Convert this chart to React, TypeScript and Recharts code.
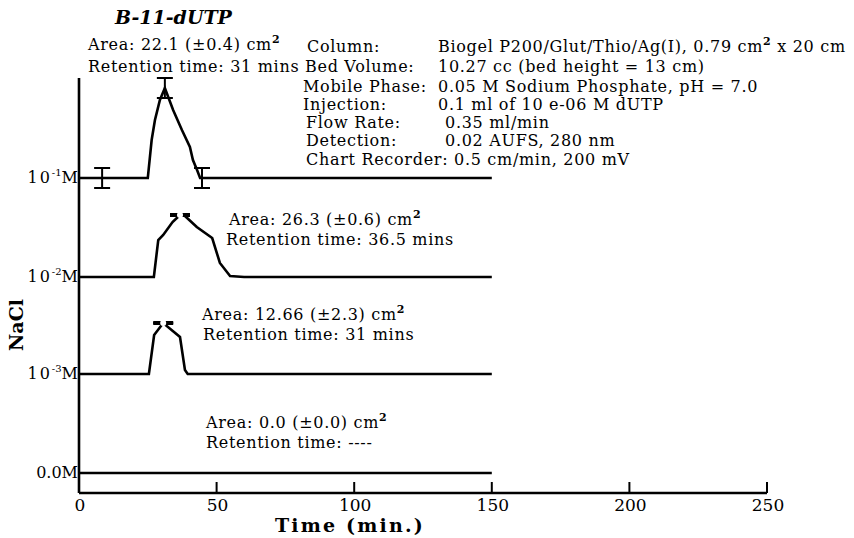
import React from 'react';
import { LineChart, Line, XAxis, YAxis, ErrorBar } from 'recharts';

// Time axis (min.)
const xTicks = [0, 50, 100, 150, 200, 250];

// Baseline offsets of each NaCl trace (arbitrary detector units)
const baseline01 = 295; // 10^-1 M
const baseline02 = 196; // 10^-2 M
const baseline03 = 99; // 10^-3 M
const baseline00 = 0; // 0.0 M

const yTickValues = [baseline00, baseline03, baseline02, baseline01];
const yTickMantissa = ['0.0', '10', '10', '10'];
const yTickExponent = ['', '-3', '-2', '-1'];

// Trace 10^-1 M
const times01 = [0, 8.4, 25, 26.4, 27.6, 29.4, 31.2, 34.2, 37.4, 40.3, 41.4, 42.9, 44, 44.7, 150];
const signal01 = [0, 0, 0, 38, 58, 78, 90, 68, 48, 31, 18, 8, 0, 0, 0];
const errTimes01 = [8.4, 31.2, 44.7];
const errSignal01 = [0, 90, 0];
const errSize01 = [10, 10, 10];

// Trace 10^-2 M
const times02 = [0, 27.2, 28.8, 30.6, 34, 36.7, 38.5, 42.8, 48.4, 51.2, 54.9, 60, 150];
const signal02 = [0, 0, 37, 42, 55, 62, 61, 50, 39, 14, 1, 0, 0];
const errTimes02 = [36.7];
const errSignal02 = [62];
const errSize02 = [0.5];

// Trace 10^-3 M
const times03 = [0, 25.4, 27.3, 30.6, 36.7, 38.5, 39.5, 150];
const signal03 = [0, 0, 39, 51, 37, 4, 0, 0];
const errTimes03 = [30.6];
const errSignal03 = [51];
const errSize03 = [0.5];

// Trace 0.0 M
const times00 = [0, 150];
const signal00 = [0, 0];

const build = (t: number[], s: number[], base: number, e?: number[]) =>
  t.map((x, i) => ({ t: x, v: base + s[i], err: e ? e[i] : undefined }));

const data01 = build(times01, signal01, baseline01);
const data02 = build(times02, signal02, baseline02);
const data03 = build(times03, signal03, baseline03);
const data00 = build(times00, signal00, baseline00);
const err01 = build(errTimes01, errSignal01, baseline01, errSize01);
const err02 = build(errTimes02, errSignal02, baseline02, errSize02);
const err03 = build(errTimes03, errSignal03, baseline03, errSize03);

const FONT = 'DejaVu Serif';
const LS = 0.7;

const XTick = (props: any) => {
  const { x, y, payload } = props;
  return (
    <g>
      {payload.value !== 0 && (
        <line x1={x} y1={y} x2={x} y2={y - 11} stroke="#000" strokeWidth={2} />
      )}
      <text x={x + 1} y={y + 18} textAnchor="middle" fontFamily={FONT} fontSize={17} fill="#000">
        {payload.value}
      </text>
    </g>
  );
};

const YTick = (props: any) => {
  const { x, y, payload } = props;
  const i = yTickValues.indexOf(payload.value);
  const exp = yTickExponent[i];
  return (
    <text x={x - 1} y={y + 5} textAnchor="end" fontFamily={FONT} fontSize={16} fill="#000">
      <tspan letterSpacing={exp ? 2 : 0}>{yTickMantissa[i]}</tspan>
      {exp && (
        <tspan dy={-7} fontSize={10}>
          {exp}
        </tspan>
      )}
      <tspan dy={exp ? 7 : 0}>M</tspan>
    </text>
  );
};

const T = ({ x, y, children, size = 16, weight = 'normal', style = 'normal', anchor = 'start', ls = LS }: any) => (
  <text
    x={x}
    y={y}
    fontFamily={FONT}
    fontSize={size}
    fontWeight={weight}
    fontStyle={style}
    textAnchor={anchor}
    letterSpacing={ls}
    fill="#000"
  >
    {children}
  </text>
);

const Sup = ({ children }: any) => (
  <tspan dy={-7} fontSize={11} fontWeight="bold">
    {children}
  </tspan>
);

const lineProps = {
  dataKey: 'v',
  type: 'linear' as const,
  stroke: '#000',
  strokeWidth: 2.6,
  dot: false,
  isAnimationActive: false,
  activeDot: false,
};

export default function App() {
  return (
    <div style={{ position: 'absolute', left: 0, top: 0, width: 854, height: 538, background: '#fff' }}>
      <LineChart width={854} height={538} margin={{ top: 78, right: 87, bottom: 0, left: 0 }}>
        <XAxis
          dataKey="t"
          type="number"
          domain={[0, 250]}
          ticks={xTicks}
          allowDataOverflow
          height={45}
          tickSize={0}
          tickMargin={0}
          tickLine={false}
          axisLine={{ stroke: '#000', strokeWidth: 2.6 }}
          tick={<XTick />}
        />
        <YAxis
          type="number"
          domain={[-20, 395]}
          ticks={yTickValues}
          allowDataOverflow
          width={79}
          tickSize={0}
          tickMargin={0}
          tickLine={false}
          axisLine={{ stroke: '#000', strokeWidth: 2.6 }}
          tick={<YTick />}
        />
        <Line {...lineProps} data={data01} />
        <Line {...lineProps} data={data02} />
        <Line {...lineProps} data={data03} />
        <Line {...lineProps} data={data00} />
        <Line {...lineProps} data={err01} stroke="none">
          <ErrorBar dataKey="err" width={8} stroke="#000" strokeWidth={2} direction="y" />
        </Line>
        <Line {...lineProps} data={err02} stroke="none">
          <ErrorBar dataKey="err" width={10} stroke="#000" strokeWidth={3} direction="y" />
        </Line>
        <Line {...lineProps} data={err03} stroke="none">
          <ErrorBar dataKey="err" width={10} stroke="#000" strokeWidth={3} direction="y" />
        </Line>
      </LineChart>
      <svg width={854} height={538} style={{ position: 'absolute', left: 0, top: 0, pointerEvents: 'none' }}>
        <T x={115} y={24} size={19} weight="bold" style="italic" ls={0}>B-11-dUTP</T>
        <T x={88} y={50}>Area: 22.1 (±0.4) cm<Sup>2</Sup></T>
        <T x={88} y={72}>Retention time: 31 mins</T>

        <T x={307} y={52}>Column:</T>
        <T x={438} y={52}>Biogel P200/Glut/Thio/Ag(I), 0.79 cm<Sup>2</Sup><tspan dy={7}> x 20 cm</tspan></T>
        <T x={305} y={72}>Bed Volume:</T>
        <T x={438} y={72}>10.27 cc (bed height = 13 cm)</T>
        <T x={303} y={92}>Mobile Phase:</T>
        <T x={438} y={92}>0.05 M Sodium Phosphate, pH = 7.0</T>
        <T x={303} y={110}>Injection:</T>
        <T x={438} y={110}>0.1 ml of 10 e-06 M dUTP</T>
        <T x={306} y={128}>Flow Rate:</T>
        <T x={445} y={128}>0.35 ml/min</T>
        <T x={306} y={146}>Detection:</T>
        <T x={445} y={146}>0.02 AUFS, 280 nm</T>
        <T x={306} y={165}>Chart Recorder: 0.5 cm/min, 200 mV</T>

        <T x={229} y={225}>Area: 26.3 (±0.6) cm<Sup>2</Sup></T>
        <T x={226} y={245}>Retention time: 36.5 mins</T>
        <T x={202} y={320}>Area: 12.66 (±2.3) cm<Sup>2</Sup></T>
        <T x={203} y={340}>Retention time: 31 mins</T>
        <T x={206} y={428}>Area: 0.0 (±0.0) cm<Sup>2</Sup></T>
        <T x={206} y={448}>Retention time: ----</T>

        <T x={350} y={532} size={19} weight="bold" anchor="middle" ls={2.2}>Time (min.)</T>
        <text
          x={23}
          y={325}
          transform="rotate(-90 23 325)"
          textAnchor="middle"
          fontFamily={FONT}
          fontSize={19}
          fontWeight="bold"
          fill="#000"
        >
          NaCl
        </text>
      </svg>
    </div>
  );
}
